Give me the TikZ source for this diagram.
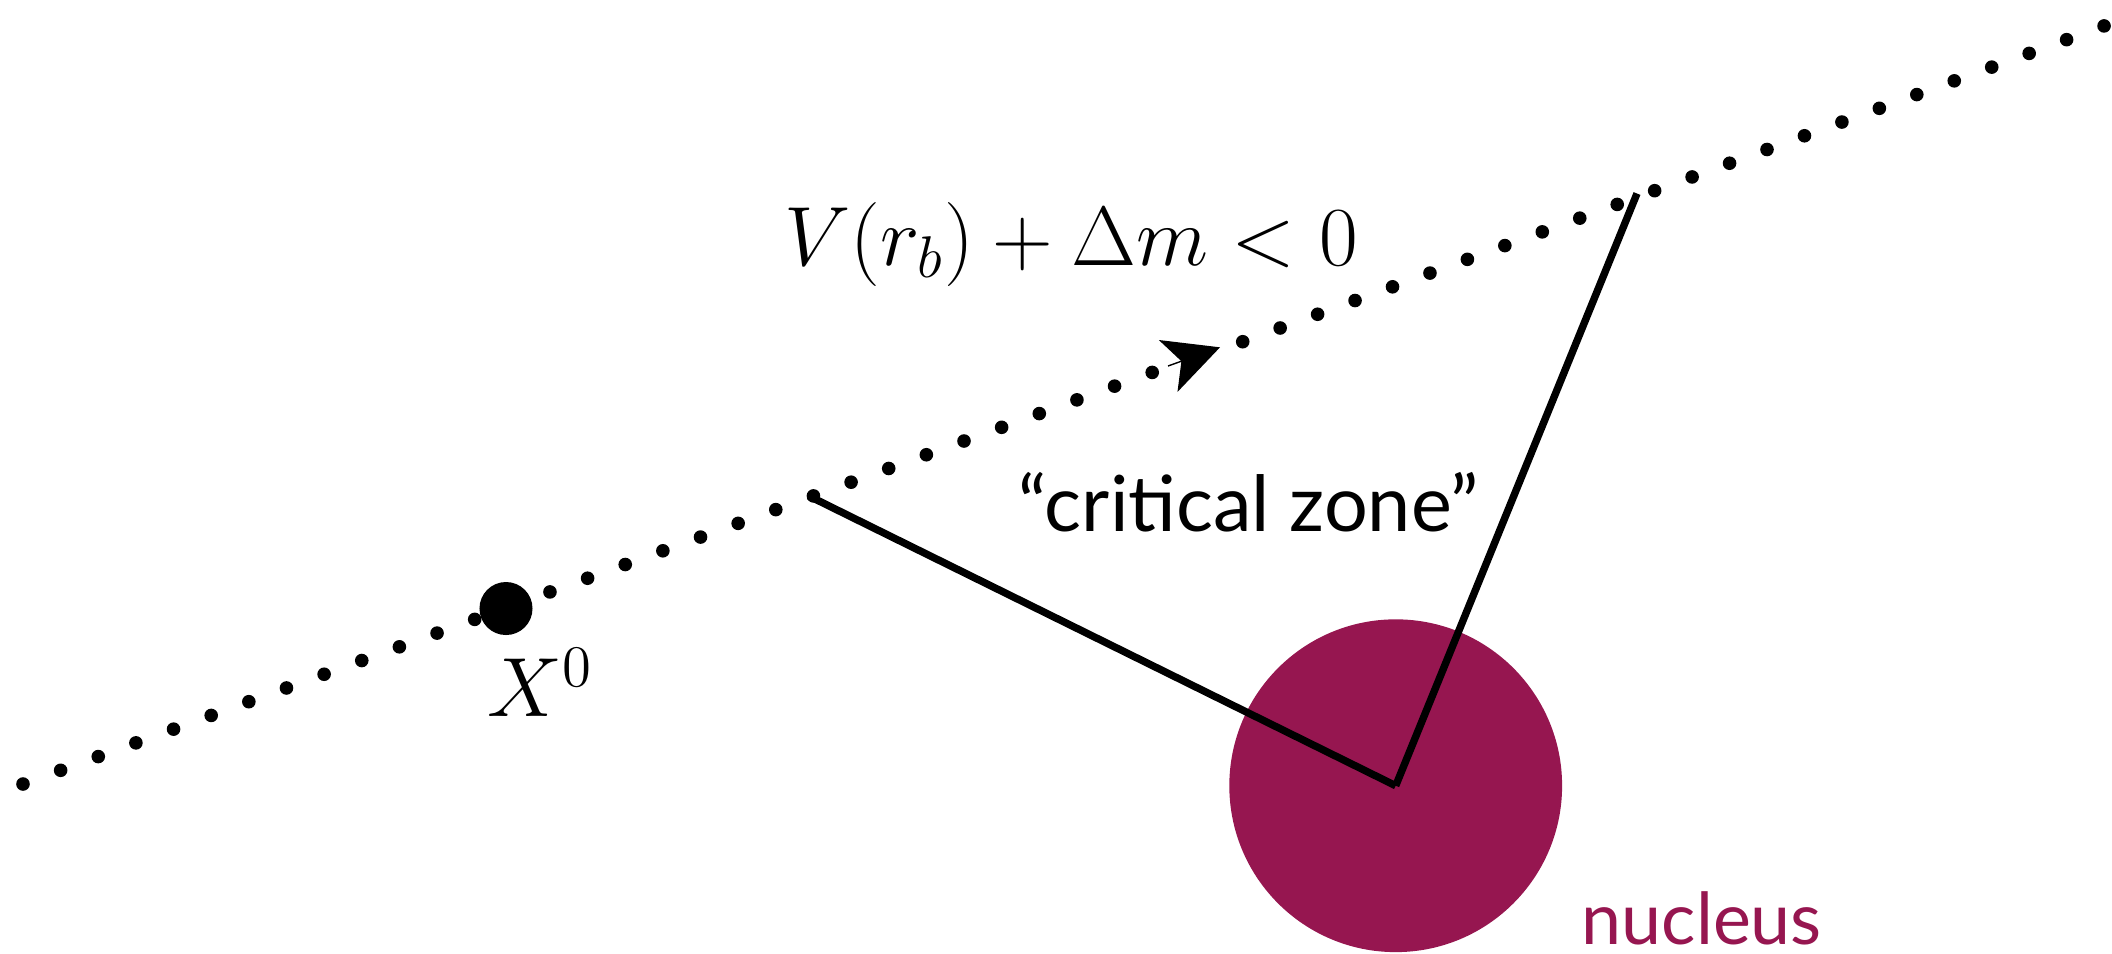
\documentclass[tikz,border=0pt]{standalone}
\usepackage{fix-cm}
\usepackage{fontspec}
\newfontfamily\zonefont{Lato}
\usetikzlibrary{arrows.meta}
\definecolor{nucleusred}{RGB}{150,22,80}

\begin{document}
\begin{tikzpicture}[x=0.01cm,y=-0.01cm,
  zoneline/.style={line width=2.1pt},
  trajdot/.style={fill=black},
  headtip/.style={line width=0.4pt,-{Stealth[length=5.5mm,width=5.5mm,inset=1.4mm]}},
  mathlabel/.style={inner sep=0pt,font=\fontsize{23.9}{29}\selectfont},
  textlabel/.style={inner sep=0pt,font=\zonefont\fontsize{22}{26}\selectfont}]
\useasboundingbox (0,0) rectangle (2112,953);
% nucleus and the critical zone
\node[circle,fill=nucleusred,inner sep=0pt,minimum size=3.326cm] (nucleus) at (1395.7,785.7) {};
\coordinate (zonestart) at (808.5,495.8);
\coordinate (zoneend) at (1637,193.5);
\draw[zoneline] (zonestart) -- (nucleus.center);
\draw[zoneline] (nucleus.center) -- (zoneend);
% dotted path of the particle
\foreach \i in {0,...,30} {\fill[trajdot] (23+37.64*\i,784-13.72*\i) circle (0.068cm);}
\foreach \i in {0,...,23} {\fill[trajdot] (1242.7+37.45*\i,341.7-13.73*\i) circle (0.068cm);}
\coordinate (headback) at (1168,366);
\coordinate (headfront) at (1220,347.3);
\draw[headtip] (headback) -- (headfront);
\node[circle,fill,inner sep=0pt,minimum size=0.53cm] (particle) at (506,608.5) {};
% labels
\node[mathlabel,anchor=base west] (xlabel) at (487,716.7) {$X^0$};
\node[mathlabel,anchor=base west] (cond) at (784,265) {$V(r_b)+\Delta m<0$};
\node[textlabel,anchor=base west] (zone) at (1018,531) {“critical zone”};
\node[textlabel,font=\zonefont\fontsize{20.4}{24}\selectfont,text=nucleusred,anchor=base west] (nuclabel) at (1581,944) {nucleus};
\end{tikzpicture}
\end{document}
